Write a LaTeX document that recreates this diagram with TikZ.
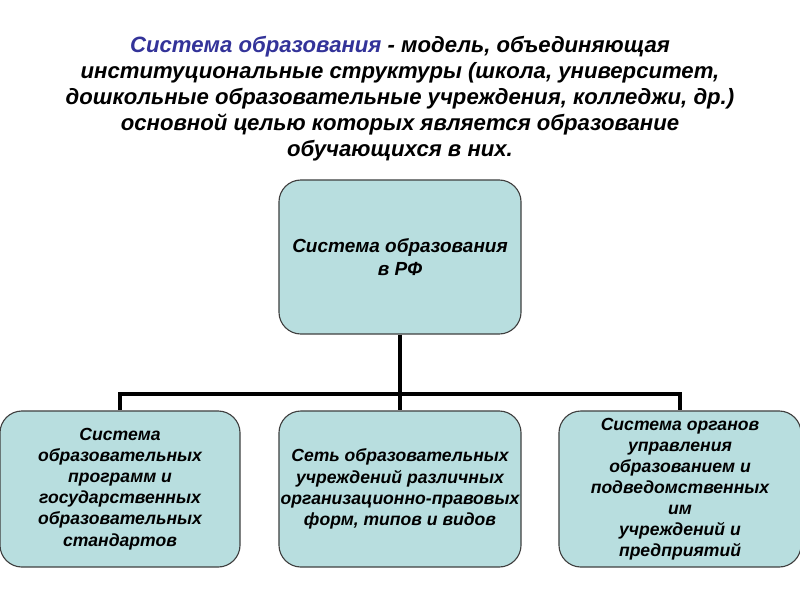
\documentclass[tikz,border=0pt]{standalone}
\usepackage{fontspec}
\setmainfont{Liberation Sans}
\definecolor{boxfill}{RGB}{184,222,223}
\definecolor{titleblue}{RGB}{51,51,153}
\begin{document}
\begin{tikzpicture}[x=0.025cm,y=-0.025cm,
  unitbox/.style={draw=black!75, line width=0.8pt, fill=boxfill, rounded corners=0.55cm,
    align=center, font=\fontsize{12.5}{15}\selectfont\bfseries\itshape, inner sep=1pt},
  link/.style={line width=2.8pt}]
  \useasboundingbox (0,0) rectangle (800,600);
  % Title
  \node[align=center, font=\fontsize{15.75}{18.5}\selectfont\bfseries\itshape] (title) at (400,99)
    {\textcolor{titleblue}{Система образования} - модель, объединяющая\\
     институциональные структуры (школа, университет,\\
     дошкольные образовательные учреждения, колледжи, др.)\\
     основной целью которых является образование\\
     обучающихся в них.};
  % Boxes
  \node[unitbox, font=\fontsize{13.5}{16.5}\selectfont\bfseries\itshape,
    minimum width=6.05cm, minimum height=3.85cm] (top) at (400,257)
    {Система образования\\в РФ};
  \node[unitbox, minimum width=6cm, minimum height=3.9cm] (left) at (120,489)
    {Система\\образовательных\\программ и\\государственных\\образовательных\\стандартов};
  \node[unitbox, minimum width=6.05cm, minimum height=3.9cm] (mid) at (400,489)
    {Сеть образовательных\\учреждений различных\\организационно-правовых\\форм, типов и видов};
  \node[unitbox, minimum width=6.05cm, minimum height=3.9cm] (right) at (680,489)
    {Система органов\\управления\\образованием и\\подведомственных\\им\\учреждений и\\предприятий};
  % Connectors
  \coordinate (bus) at (400,394);
  \draw[link] (top.south) -- (bus);
  \draw[link] (left.north) |- (bus) -| (right.north);
  \draw[link] (bus) -- (mid.north);
\end{tikzpicture}
\end{document}
